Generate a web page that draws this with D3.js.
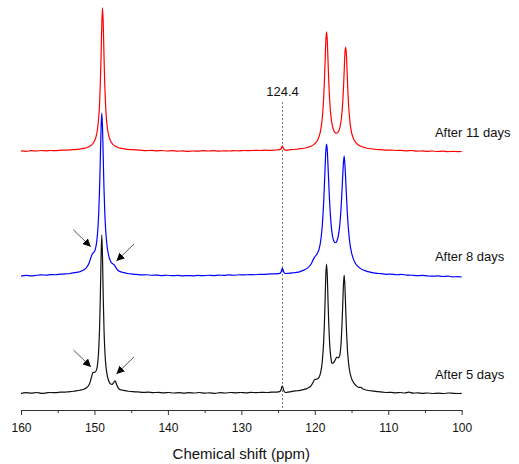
<!DOCTYPE html>
<html>
<head>
<meta charset="utf-8">
<script src="https://cdn.jsdelivr.net/npm/d3@7"></script>
<style>
  body { margin: 0; background: #fff; }
  svg { display: block; font-family: "Liberation Sans", Arial, sans-serif; }
</style>
</head>
<body>
<svg id="chart" width="519" height="464"></svg>
<script>
// 13C spectra, [chemical shift (ppm), intensity (a.u.)]
const after5Days = [
  [160,-0.2],[159.3,0.2],[158.6,-0.1],[157.9,0.3],[157.2,-0.2],[156.5,0.1],[156,0.3],[155.3,0.2],
  [154.6,0.5],[154,0.6],[153.3,0.8],[152.7,1.2],[152,1.7],[151.5,2.3],[151,3.6],[150.8,4.7],
  [150.6,6.65],[150.4,9.9],[150.2,12.9],[150.0,12.9],[149.8,13.6],[149.6,17.1],[149.5,21.6],
  [149.4,29.0],[149.3,41.0],[149.2,59.8],[149.1,84.5],[149.0,98.7],[148.9,84.0],[148.8,59.0],
  [148.7,40.0],[148.6,27.8],[148.5,20.1],[148.4,15.2],[148.2,9.7],[148.0,6.9],[147.8,5.6],
  [147.6,5.4],[147.4,6.4],[147.2,7.6],[147.0,5.5],[146.8,3.5],[146.6,2.4],[146.3,1.9],[146,1.6],
  [145.4,1.1],[144.8,0.8],[144.1,0.7],[143.4,0.4],[142.7,0.5],[142,0.2],[141.3,0.4],[140.6,0.1],
  [139.9,0.3],[139.2,0.0],[138.5,0.2],[137.8,-0.1],[137.1,0.2],[136.4,0.0],[135.7,0.3],[135,-0.1],
  [134.3,0.1],[133.6,-0.2],[132.9,0.2],[132.2,0.0],[131.5,0.3],[130.8,0.1],[130.1,0.3],[129.4,0.1],
  [128.7,0.4],[128,0.2],[127.3,0.4],[126.6,0.3],[125.9,0.5],[125.2,0.6],[124.8,0.9],[124.6,2.0],
  [124.45,4.3],[124.35,3.6],[124.2,1.2],[124.0,0.3],[123.7,0.5],[123.2,0.9],[122.6,1.3],[122,1.6],
  [121.5,2.2],[121,2.9],[120.5,4.6],[120.2,7.0],[120.0,8.4],[119.8,8.6],[119.6,8.9],[119.4,10.0],
  [119.2,12.9],[119.0,18.9],[118.8,31.5],[118.7,42.5],[118.6,57.5],[118.5,73.8],[118.4,80.6],
  [118.3,73.5],[118.2,57.5],[118.1,43.3],[118.0,32.9],[117.8,21.6],[117.7,19.0],[117.6,18.6],
  [117.4,19.2],[117.2,20.8],[117.0,22.5],[116.8,22.0],[116.6,23.6],[116.4,33.0],[116.3,42.3],
  [116.2,54.9],[116.1,67.7],[116.0,73.7],[115.9,66.9],[115.8,53.5],[115.7,40.4],[115.6,30.4],
  [115.5,23.4],[115.3,15.0],[115.1,10.5],[114.9,8.0],[114.6,5.7],[114.3,4.3],[114,3.5],[113.7,3.6],
  [113.5,2.6],[113,1.9],[112.5,1.4],[112,1.2],[111.4,0.8],[110.8,0.6],[110.2,0.3],[109.6,0.4],
  [109,0.1],[108.4,0.3],[107.8,0.0],[107.2,0.5],[106.6,-0.1],[106,0.1],[105.3,-0.2],[104.6,0.0],
  [103.9,-0.3],[103.2,-0.1],[102.5,-0.3],[101.8,0.0],[101.1,-0.2],[100.4,-0.3],[100,-0.2]
];

const after8Days = [
  [160,-0.4],[159.3,0.0],[158.6,-0.3],[157.9,0.1],[157.2,0.3],[156.5,0.2],[156,0.5],[155.3,0.4],
  [154.6,0.8],[154,0.9],[153.3,1.2],[152.7,1.7],[152,2.3],[151.5,3.3],[151,5.4],[150.7,8.1],
  [150.5,10.9],[150.3,13.4],[150.1,14.4],[149.9,16.0],[149.7,20.8],[149.5,31.5],[149.4,41.0],
  [149.3,54.7],[149.2,72.9],[149.1,92.0],[149.0,101.5],[148.9,92.0],[148.8,72.7],[148.7,54.2],
  [148.6,40.3],[148.5,30.6],[148.3,19.0],[148.1,13.1],[147.9,9.9],[147.7,8.0],[147.5,7.2],
  [147.3,6.6],[147.1,5.0],[146.9,3.6],[146.7,2.8],[146.4,2.2],[146,1.7],[145.5,1.2],[145,0.9],
  [144.3,0.6],[143.6,0.3],[142.9,0.4],[142.2,0.1],[141.5,0.2],[140.8,-0.1],[140.1,0.1],[139.4,-0.2],
  [138.7,0.0],[138,-0.3],[137.3,-0.1],[136.6,-0.3],[135.9,0.0],[135.2,-0.2],[134.5,0.1],[133.8,-0.1],
  [133.1,0.2],[132.4,0.0],[131.7,0.3],[131,0.1],[130.3,0.4],[129.6,0.3],[128.9,0.5],[128.2,0.4],
  [127.5,0.7],[126.8,0.6],[126.1,0.9],[125.5,0.9],[125,1.1],[124.7,1.4],[124.55,2.6],[124.45,4.4],
  [124.35,3.8],[124.2,1.9],[124.0,1.2],[123.6,1.3],[123,1.6],[122.5,1.9],[122,2.4],[121.5,3.3],
  [121,4.55],[120.5,7.15],[120.2,10.0],[120,11.6],[119.7,13.3],[119.4,16.7],[119.2,21.5],
  [119.0,30.1],[118.8,45.1],[118.6,67.1],[118.5,77.5],[118.4,82.1],[118.3,78.2],[118.2,68.3],
  [118.0,47.6],[117.8,33.0],[117.6,24.8],[117.4,21.4],[117.2,20.4],[117.0,21.4],[116.8,24.7],
  [116.6,31.4],[116.4,44.0],[116.2,62.0],[116.1,70.5],[116.0,74.5],[115.9,69.2],[115.8,60.5],
  [115.6,41.5],[115.4,27.7],[115.2,19.4],[115.0,14.2],[114.75,10.3],[114.5,7.8],[114.2,5.9],
  [113.9,4.7],[113.5,3.55],[113,2.7],[112.5,2.1],[112,1.6],[111.5,1.3],[111,1.1],[110.3,0.7],
  [109.6,0.8],[108.9,0.4],[108.2,0.6],[107.5,0.2],[106.8,0.1],[106.1,-0.2],[105.4,0.0],[104.7,-0.3],
  [104,-0.5],[103.3,-0.3],[102.6,-0.7],[101.9,-0.5],[101.2,-0.9],[100.5,-0.8],[100,-1.0]
];

const after11Days = [
  [160,0.1],[159.3,-0.2],[158.6,0.2],[157.9,0.0],[157.2,0.3],[156.5,0.1],[156,0.3],[155.2,0.2],
  [154.5,0.5],[154,0.5],[153,0.8],[152,1.2],[151.5,1.6],[151,2.2],[150.6,3.1],[150.3,4.2],
  [150.0,6.2],[149.8,8.7],[149.6,13.1],[149.4,22.0],[149.3,30.0],[149.2,42.0],[149.1,59.3],
  [149.0,79.0],[148.9,89.4],[148.8,79.0],[148.7,59.3],[148.6,42.0],[148.5,30.0],[148.4,22.0],
  [148.2,13.1],[148.0,8.7],[147.8,6.2],[147.5,4.2],[147.2,3.1],[146.8,2.2],[146.3,1.6],[145.8,1.2],
  [144.8,0.8],[143.8,0.5],[143,0.2],[142.2,0.4],[141.5,0.1],[140.8,0.3],[140.1,0.0],[139.4,0.2],
  [138.7,-0.1],[138,0.1],[137.3,-0.2],[136.6,0.0],[135.9,-0.1],[135.2,0.2],[134.5,0.0],[133.8,0.2],
  [133.1,-0.1],[132.4,0.1],[131.7,0.0],[131,0.2],[130.3,0.1],[129.6,0.3],[128.9,0.2],[128.2,0.4],
  [127.5,0.3],[126.8,0.5],[126.1,0.4],[125.5,0.6],[125,0.7],[124.7,1.0],[124.55,1.8],[124.45,3.0],
  [124.35,2.6],[124.25,1.4],[124.1,0.7],[123.8,0.5],[123.3,0.8],[122.5,1.1],[122,1.4],[121.5,1.7],
  [121,2.2],[120.5,3.0],[120,4.56],[119.7,6.25],[119.4,9.3],[119.2,13.1],[119.0,19.7],[118.8,32.5],
  [118.7,42.7],[118.6,55.8],[118.5,68.7],[118.4,74.5],[118.3,69.0],[118.2,56.4],[118.1,43.6],
  [118.0,33.7],[117.8,21.5],[117.6,15.55],[117.4,12.6],[117.2,11.3],[117.0,11.1],[116.8,12.0],
  [116.6,14.4],[116.4,19.5],[116.2,30.1],[116.1,38.8],[116.0,49.9],[115.9,60.8],[115.8,65.0],
  [115.7,60.5],[115.6,49.3],[115.5,37.9],[115.4,28.8],[115.2,17.6],[115.0,11.7],[114.8,8.5],
  [114.5,5.75],[114.1,3.9],[113.6,2.7],[113,1.9],[112.4,1.4],[112,1.2],[111.4,0.9],[111,0.8],
  [110.3,0.5],[109.6,0.6],[108.9,0.3],[108.2,0.4],[107.5,0.1],[106.8,0.3],[106.1,-0.1],[105.4,0.1],
  [104.7,-0.2],[104,0.0],[103.3,-0.3],[102.6,-0.1],[101.9,-0.4],[101.2,-0.2],[100.5,-0.4],[100,-0.3]
];

const seriesData   = [after5Days, after8Days, after11Days];
const seriesLabels = ["After 5 days", "After 8 days", "After 11 days"];
const seriesColors = ["#111111", "#0000ff", "#ff0000"];
const stackOffsets = [0, 73.5, 151.25];           // vertical stacking, intensity units

const majorTicks = [160, 150, 140, 130, 120, 110, 100];
const minorTicks = [155, 145, 135, 125, 115, 105];
const markedShift = 124.4;

// shoulder arrows: spectrum index, tip position (ppm, height above that spectrum's baseline), side
const arrowSeries = [1, 1, 0, 0];
const arrowPpm    = [150.5, 147.0, 150.47, 147.0];
const arrowLevel  = [17.9, 9.0, 16.25, 11.9];
const arrowSide   = [-1, 1, -1, 1];

const svg = d3.select("#chart");
const axisY = 410;

const x = d3.scaleLinear().domain([160, 100]).range([21, 461.7]);
const y = d3.scaleLinear().domain([0, 100]).range([393, 233]);

// arrowhead
svg.append("defs").append("marker")
  .attr("id", "head")
  .attr("viewBox", "0 0 10 10")
  .attr("refX", 10).attr("refY", 5)
  .attr("markerUnits", "userSpaceOnUse")
  .attr("markerWidth", 8).attr("markerHeight", 8)
  .attr("orient", "auto")
  .append("path").attr("d", "M0,0 L10,5 L0,10 Z").attr("fill", "#000");

// reference line at 124.4 ppm
svg.append("line")
  .attr("x1", x(markedShift)).attr("x2", x(markedShift))
  .attr("y1", 102).attr("y2", axisY)
  .attr("stroke", "#777").attr("stroke-width", 1)
  .attr("stroke-dasharray", "2,2");

svg.append("text")
  .attr("x", x(markedShift)).attr("y", 96)
  .attr("text-anchor", "middle")
  .attr("font-size", 13).attr("fill", "#111")
  .text(markedShift.toFixed(1));

// spectra
const line = d3.line().curve(d3.curveMonotoneX);
seriesData.forEach((data, i) => {
  line.x(d => x(d[0])).y(d => y(d[1] + stackOffsets[i]));
  svg.append("path")
    .datum(data)
    .attr("d", line)
    .attr("fill", "none")
    .attr("stroke", seriesColors[i])
    .attr("stroke-width", 1.2)
    .attr("stroke-linejoin", "round");

  svg.append("text")
    .attr("x", x(103.65))
    .attr("y", y(stackOffsets[i]) - 14)
    .attr("font-size", 13).attr("fill", "#111")
    .text(seriesLabels[i]);
});

// arrows
arrowSeries.forEach((s, i) => {
  const tx = x(arrowPpm[i]);
  const ty = y(arrowLevel[i] + stackOffsets[s]);
  svg.append("line")
    .attr("x1", tx + arrowSide[i] * 17.5).attr("y1", ty - 17)
    .attr("x2", tx).attr("y2", ty)
    .attr("stroke", "#555").attr("stroke-width", 1)
    .attr("marker-end", "url(#head)");
});

// x axis
const axisG = svg.append("g").attr("transform", `translate(0,${axisY})`);
axisG.call(d3.axisBottom(x).tickValues(majorTicks).tickSize(5).tickSizeOuter(0)
  .tickPadding(8).tickFormat(d3.format("d")));
axisG.selectAll(".tick text").attr("font-size", 12).attr("fill", "#111")
  .attr("font-family", '"Liberation Sans", Arial, sans-serif');
axisG.selectAll("path, line").attr("stroke", "#333");

const minorG = svg.append("g").attr("transform", `translate(0,${axisY})`);
minorG.call(d3.axisBottom(x).tickValues(minorTicks).tickSize(3).tickSizeOuter(0).tickFormat(""));
minorG.select(".domain").remove();
minorG.selectAll("line").attr("stroke", "#333");

svg.append("text")
  .attr("x", (x(160) + x(100)) / 2).attr("y", 459)
  .attr("text-anchor", "middle")
  .attr("font-size", 15).attr("fill", "#111")
  .text("Chemical shift (ppm)");
</script>
</body>
</html>
